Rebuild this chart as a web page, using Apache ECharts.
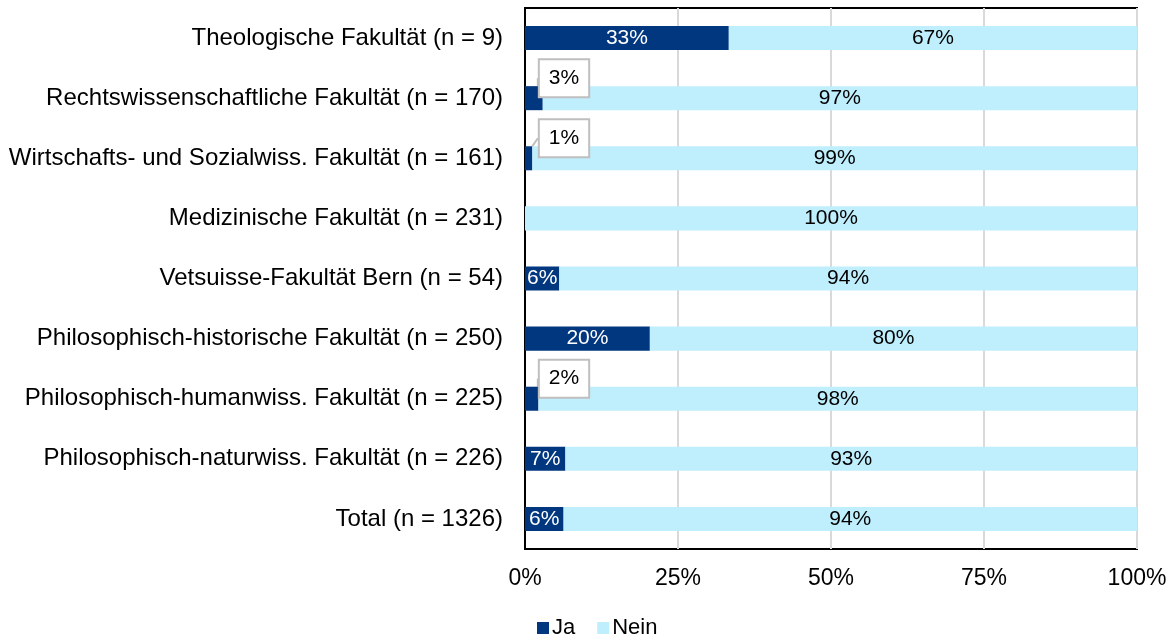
<!DOCTYPE html>
<html>
<head>
<meta charset="utf-8">
<script src="https://cdn.jsdelivr.net/npm/echarts@6/dist/echarts.min.js"></script>
<style>
  html, body { margin: 0; padding: 0; background: #fff; }
  #chart { width: 1176px; height: 639px; }
</style>
</head>
<body>
<div id="chart"></div>
<script>
const categories = [
  'Theologische Fakultät (n = 9)',
  'Rechtswissenschaftliche Fakultät (n = 170)',
  'Wirtschafts- und Sozialwiss. Fakultät (n = 161)',
  'Medizinische Fakultät (n = 231)',
  'Vetsuisse-Fakultät Bern (n = 54)',
  'Philosophisch-historische Fakultät (n = 250)',
  'Philosophisch-humanwiss. Fakultät (n = 225)',
  'Philosophisch-naturwiss. Fakultät (n = 226)',
  'Total (n = 1326)'
]
const jaValues = [33.3, 2.9, 1.2, 0, 5.6, 20.4, 2.2, 6.6, 6.3]
const neinValues = [66.7, 97.1, 98.8, 100, 94.4, 79.6, 97.8, 93.4, 93.7]
const xTicks = [0, 25, 50, 75, 100]

const fontFamily = 'Liberation Sans, Arial, sans-serif'

// kleine Werte bekommen eine Sprechblase ausserhalb des Balkens
const calloutLabel = {
  color: '#000',
  backgroundColor: '#fff',
  borderColor: '#bfbfbf',
  borderWidth: 2,
  padding: [8, 9, 7, 9]
}

const jaData = jaValues.map(function (v) {
  if (v > 0 && v < 4) {
    return {
      value: v,
      label: calloutLabel,
      labelLine: { show: true, lineStyle: { color: '#bfbfbf', width: 2 } }
    }
  }
  return v
})

const pctLabel = function (p) {
  return p.value > 0 ? Math.round(p.value) + '%' : ''
}

const chart = echarts.init(document.getElementById('chart'))
chart.setOption({
  animation: false,
  grid: {
    left: 525,
    right: 39,
    top: 8,
    bottom: 90,
    show: true,
    borderColor: '#000',
    borderWidth: 2
  },
  legend: {
    top: 612,
    left: 532,
    itemWidth: 12,
    itemHeight: 12,
    itemGap: 22,
    icon: 'rect',
    textStyle: { fontSize: 22, color: '#000', fontFamily: fontFamily, padding: [0, 0, 0, -2] },
    data: ['Ja', 'Nein']
  },
  xAxis: {
    type: 'value',
    min: 0,
    max: 100,
    interval: 25,
    axisLine: { show: false },
    axisTick: { show: false },
    axisLabel: {
      margin: 18,
      fontSize: 23,
      color: '#000',
      fontFamily: fontFamily,
      formatter: function (v) { return xTicks.indexOf(v) >= 0 ? v + '%' : '' }
    },
    splitLine: { lineStyle: { color: '#d9d9d9', width: 2 } }
  },
  yAxis: {
    type: 'category',
    inverse: true,
    data: categories,
    axisLine: { lineStyle: { color: '#000', width: 2 } },
    axisTick: { show: false },
    axisLabel: {
      margin: 22,
      fontSize: 24,
      color: '#000',
      fontFamily: fontFamily
    }
  },
  series: [
    {
      name: 'Ja',
      type: 'bar',
      stack: 'total',
      barWidth: '40%',
      data: jaData,
      itemStyle: { color: '#00377f' },
      label: {
        show: true,
        position: 'inside',
        color: '#fff',
        fontSize: 21,
        fontFamily: fontFamily,
        formatter: pctLabel
      },
      labelLayout: function (params) {
        const v = jaValues[params.dataIndex]
        if (v > 0 && v < 4) {
          return {
            x: params.rect.x + 39,
            y: params.rect.y - 8,
            align: 'center',
            verticalAlign: 'middle'
          }
        }
        return {}
      }
    },
    {
      name: 'Nein',
      type: 'bar',
      stack: 'total',
      barWidth: '40%',
      data: neinValues,
      itemStyle: { color: '#bfeefd' },
      label: {
        show: true,
        position: 'inside',
        color: '#000',
        fontSize: 21,
        fontFamily: fontFamily,
        formatter: pctLabel
      }
    }
  ]
})
</script>
</body>
</html>
